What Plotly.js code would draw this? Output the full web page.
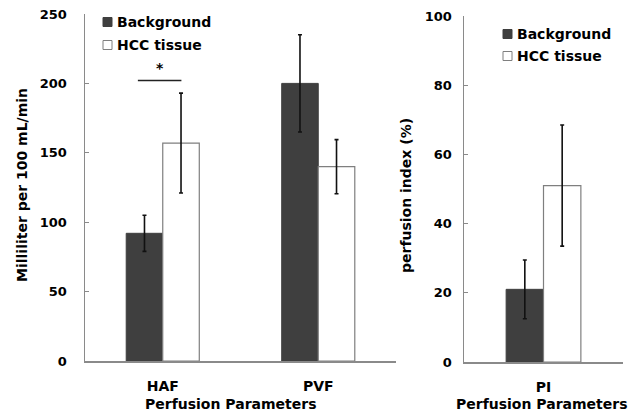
<!DOCTYPE html>
<html>
<head>
<meta charset="utf-8">
<script src="https://cdn.plot.ly/plotly-3.0.1.min.js"></script>
<style>html,body{margin:0;padding:0;background:#fff}#chart{width:636px;height:413px}</style>
</head>
<body>
<div id="chart"></div>
<script>
// ---- data ----
const categories = ['HAF', 'PVF'];
const backgroundValues = [92, 200];
const backgroundErrors = [13, 35];
const hccValues = [157, 140];
const hccErrors = [36, 19.5];

const piCategories = ['PI'];
const piBackground = [21];
const piBackgroundErrors = [8.5];
const piHcc = [51];
const piHccErrors = [17.5];

const seriesNames = ['Background', 'HCC tissue'];
const leftTicks = [0, 50, 100, 150, 200, 250];
const rightTicks = [0, 20, 40, 60, 80, 100];

// ---- styles ----
const FONT = '"DejaVu Sans", Verdana, sans-serif';
const dark = '#3f3f3f';
const axisCol = '#8a8a8a';
const hccLine = '#7f7f7f';
const errStyle = (arr) => ({type: 'data', array: arr, visible: true, color: '#111', thickness: 1.6, width: 2});

const traces = [
  {type: 'bar', name: seriesNames[0], x: categories, y: backgroundValues, error_y: errStyle(backgroundErrors),
   marker: {color: dark, line: {color: dark, width: 1}}, xaxis: 'x', yaxis: 'y'},
  {type: 'bar', name: seriesNames[1], x: categories, y: hccValues, error_y: errStyle(hccErrors),
   marker: {color: '#ffffff', line: {color: hccLine, width: 1.2}}, xaxis: 'x', yaxis: 'y'},
  {type: 'bar', name: seriesNames[0], x: piCategories, y: piBackground, error_y: errStyle(piBackgroundErrors),
   marker: {color: dark, line: {color: dark, width: 1}}, xaxis: 'x2', yaxis: 'y2'},
  {type: 'bar', name: seriesNames[1], x: piCategories, y: piHcc, error_y: errStyle(piHccErrors),
   marker: {color: '#ffffff', line: {color: hccLine, width: 1.2}}, xaxis: 'x2', yaxis: 'y2'}
];

const W = 636, H = 413;
const px = v => v / W, py = v => (H - v) / H;
const tickFont = {family: FONT, size: 13, weight: 700, color: '#000'};
const txtFont = {family: FONT, size: 14, weight: 700, color: '#000'};

const yCommon = {showgrid: false, zeroline: false, showline: true, linecolor: axisCol, linewidth: 1.5,
  ticks: 'inside', ticklen: 4, tickcolor: axisCol, tickfont: tickFont, fixedrange: true};
const xCommon = {showgrid: false, zeroline: false, showline: true, linecolor: axisCol, linewidth: 1.5,
  ticks: '', tickfont: txtFont, ticklabelstandoff: 12};

// custom legend (positions in pixels)
const legendSpecs = [
  {sx: 103, rows: [22, 45]},
  {sx: 503, rows: [34, 56]}
];
const legendFills = [dark, '#ffffff'];
const legendLines = [dark, hccLine];
const shapes = [
  {type: 'line', xref: 'x', yref: 'y', x0: -0.16, x1: 0.12, y0: 202, y1: 202, line: {color: '#222', width: 1.5}}
];
const annotations = [
  {text: '*', xref: 'x', yref: 'y', x: -0.02, y: 211, showarrow: false, font: txtFont},
  {text: 'Milliliter per 100 mL/min', textangle: -90, xref: 'paper', yref: 'paper', x: px(22), y: py(185),
   xanchor: 'center', yanchor: 'middle', showarrow: false, font: txtFont},
  {text: 'perfusion index (%)', textangle: -90, xref: 'paper', yref: 'paper', x: px(406), y: py(196),
   xanchor: 'center', yanchor: 'middle', showarrow: false, font: txtFont},
  {text: 'Perfusion Parameters', xref: 'paper', yref: 'paper', x: px(231), y: py(404),
   xanchor: 'center', yanchor: 'middle', showarrow: false, font: txtFont},
  {text: 'Perfusion Parameters', xref: 'paper', yref: 'paper', x: px(542), y: py(404),
   xanchor: 'center', yanchor: 'middle', showarrow: false, font: txtFont}
];
legendSpecs.forEach(spec => {
  seriesNames.forEach((name, i) => {
    const cy = spec.rows[i];
    shapes.push({type: 'rect', xref: 'paper', yref: 'paper', x0: px(spec.sx), x1: px(spec.sx + 9),
      y0: py(cy - 4.5), y1: py(cy + 4.5), fillcolor: legendFills[i], line: {color: legendLines[i], width: 1}});
    annotations.push({text: name, xref: 'paper', yref: 'paper', x: px(spec.sx + 12), y: py(cy),
      xanchor: 'left', yanchor: 'middle', showarrow: false, font: txtFont});
  });
});

const layout = {
  width: W, height: H,
  margin: {l: 0, r: 0, t: 0, b: 0},
  paper_bgcolor: '#fff', plot_bgcolor: '#fff',
  barmode: 'group', bargap: 0.53, bargroupgap: 0,
  showlegend: false,
  font: txtFont,
  xaxis: Object.assign({}, xCommon, {domain: [px(85), px(396)], range: [-0.5, 1.5], anchor: 'y', type: 'category'}),
  yaxis: Object.assign({}, yCommon, {domain: [py(361), py(14)], range: [0, 250], tickvals: leftTicks, anchor: 'x', ticklabelstandoff: 14}),
  xaxis2: Object.assign({}, xCommon, {domain: [px(464), px(623)], range: [-0.5, 0.5], anchor: 'y2', type: 'category'}),
  yaxis2: Object.assign({}, yCommon, {domain: [py(362), py(16)], range: [0, 100], tickvals: rightTicks, anchor: 'x2', ticklabelstandoff: 8}),
  xaxis3: {overlaying: 'x', anchor: 'y', domain: [px(85), px(396)], range: [-0.5, 1.5], type: 'linear',
    tickvals: [0.5, 1.5], ticks: 'inside', ticklen: 5, tickcolor: axisCol, tickwidth: 1.5, showticklabels: false,
    showline: false, showgrid: false, zeroline: false},
  xaxis4: {overlaying: 'x2', anchor: 'y2', domain: [px(464), px(623)], range: [-0.5, 0.5], type: 'linear',
    tickvals: [0.5], ticks: 'inside', ticklen: 5, tickcolor: axisCol, tickwidth: 1.5, showticklabels: false,
    showline: false, showgrid: false, zeroline: false},
  shapes: shapes,
  annotations: annotations
};

Plotly.newPlot('chart', traces, layout, {displayModeBar: false, staticPlot: true});
</script>
</body>
</html>
